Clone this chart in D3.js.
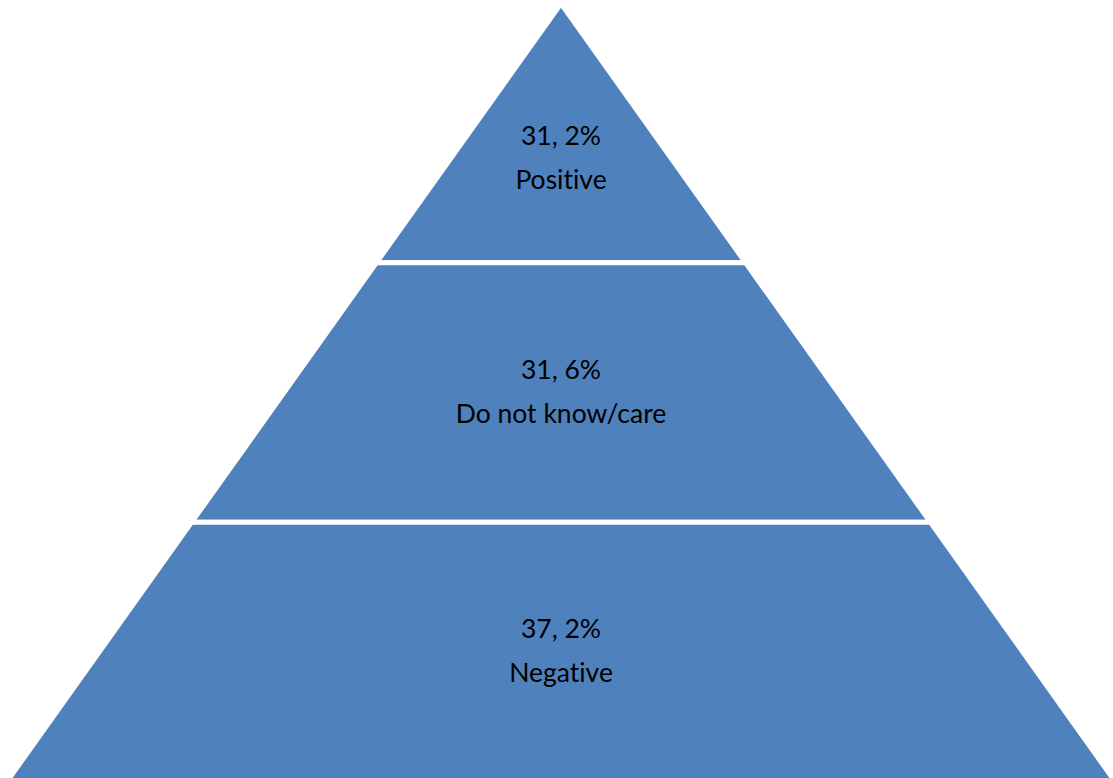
<!DOCTYPE html>
<html>
<head>
<meta charset="utf-8">
<script src="https://cdn.jsdelivr.net/npm/d3@7"></script>
<style>
  html, body { margin: 0; padding: 0; background: #fff; }
  svg { display: block; }
  text { font-variant-ligatures: none; }
</style>
</head>
<body>
<svg id="chart" width="1113" height="778"></svg>
<script>
// Data (top to bottom of the pyramid)
const categories = ["Positive", "Do not know/care", "Negative"];
const values = [31.2, 31.6, 37.2];

const W = 1113, H = 778;
const svg = d3.select("#chart");

const n = categories.length;
const cx = 561;
// level scale: pyramid levels 0 (apex) .. n (base)
const y = d3.scaleLinear().domain([0, n]).range([3.5, 781.5]);
const half = d3.scaleLinear().domain([0, n]).range([0, 554]);

const fmt = v => d3.format(".1f")(v).replace(".", ", ") + "%";

const bands = categories.map((c, i) => ({ c, v: values[i], i }));

svg.selectAll("path.band")
  .data(bands)
  .join("path")
  .attr("class", "band")
  .attr("d", d => {
    const t = d.i, b = d.i + 1;
    const pts = [
      [cx - half(t), y(t)], [cx + half(t), y(t)],
      [cx + half(b), y(b)], [cx - half(b), y(b)]
    ];
    return d3.line()(pts) + "Z";
  })
  .attr("fill", "#4F81BD")
  .attr("stroke", "#ffffff")
  .attr("stroke-width", 5)
  .attr("stroke-linejoin", "miter");

const labels = svg.selectAll("g.lab")
  .data(bands)
  .join("g")
  .attr("class", "lab")
  .attr("transform", d => `translate(${cx},${y(d.i + (d.i === 0 ? 0.6 : 0.5))})`);

labels.append("text")
  .attr("text-anchor", "middle")
  .attr("y", -14)
  .attr("font-family", "Lato, 'Open Sans', sans-serif")
  .attr("font-size", 26.5)
  .attr("fill", "#000")
  .text(d => fmt(d.v));

labels.append("text")
  .attr("text-anchor", "middle")
  .attr("y", 30)
  .attr("font-family", "Lato, 'Open Sans', sans-serif")
  .attr("font-size", 26.5)
  .attr("fill", "#000")
  .text(d => d.c);
</script>
</body>
</html>
